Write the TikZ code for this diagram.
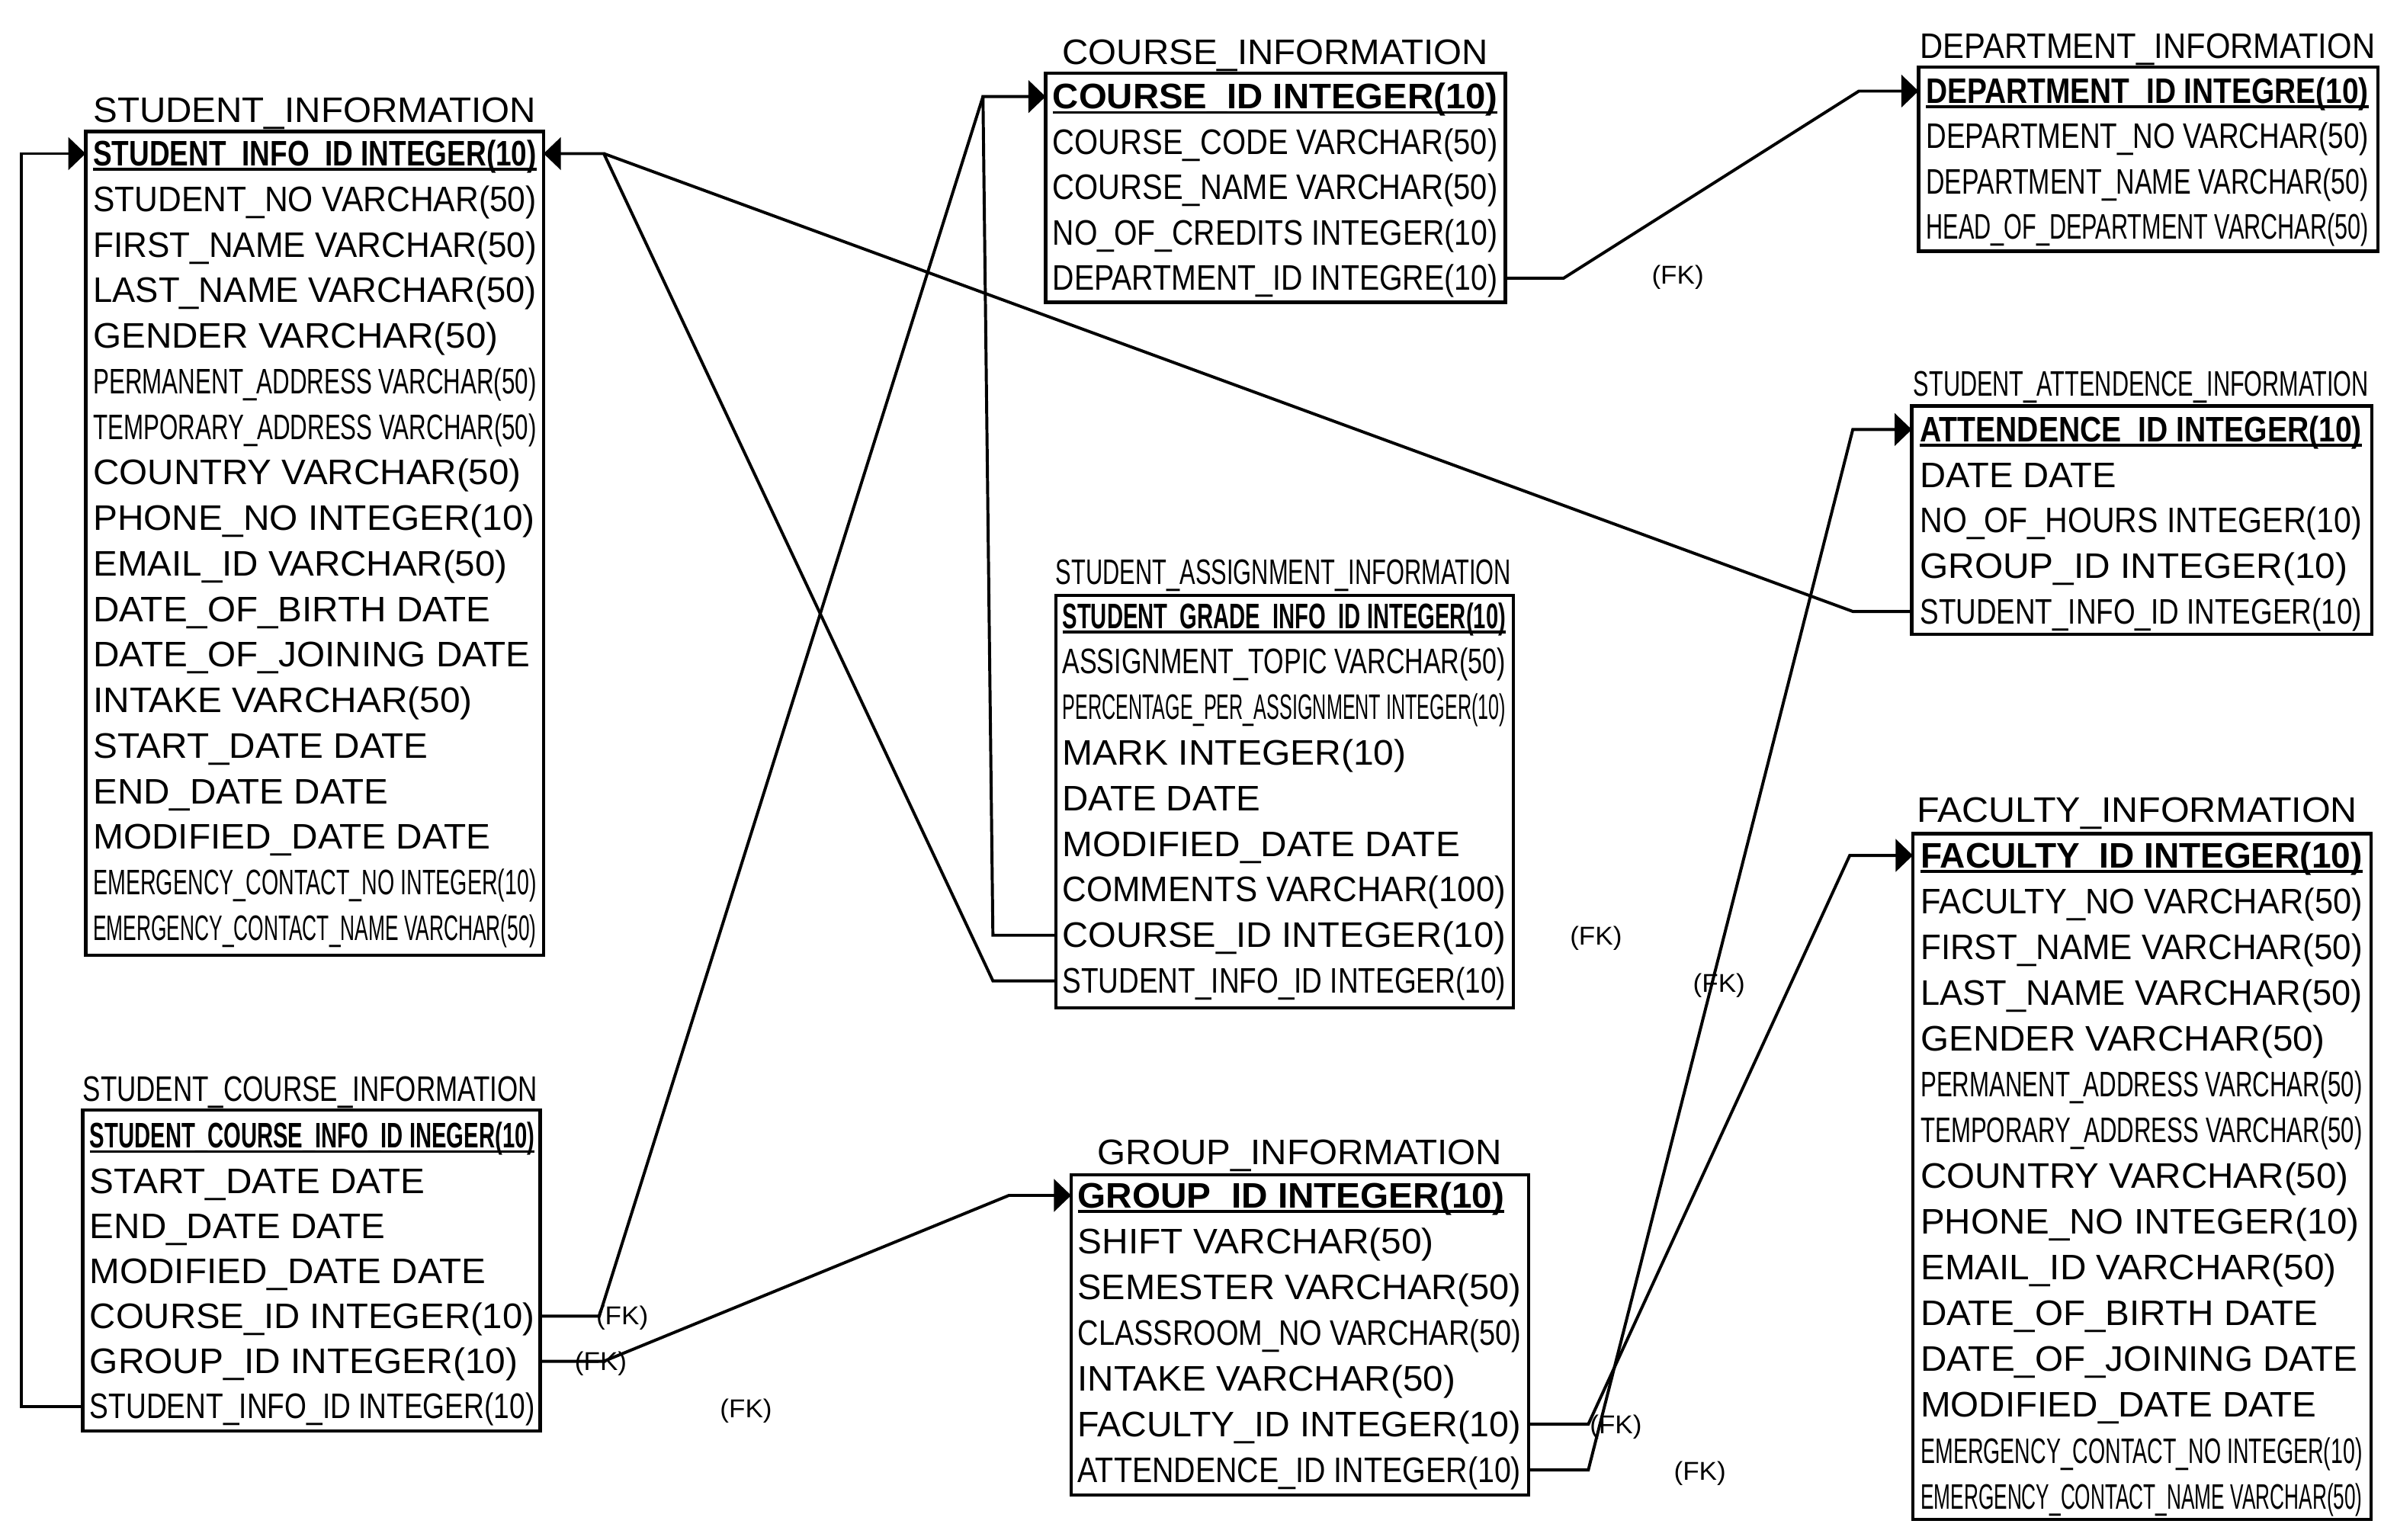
\documentclass[tikz,border=0pt]{standalone}
\usepackage{fontspec}
\setmainfont{Liberation Sans}
\usepackage{graphicx}
\usetikzlibrary{arrows.meta,calc}
\newlength\ux \setlength\ux{0.05cm}
\newcommand\fw[2]{\resizebox{#1\ux}{\height}{#2}}
\newcommand\pkline[1]{\setbox0\hbox{\bfseries #1}\rlap{\rule[-4.6pt]{\wd0}{2.6pt}}\box0}
\newcommand\pw[2]{\resizebox{#1\ux}{\height}{\pkline{#2}}}
\newcommand\tblrows[5]{\foreach[count=\ri from 2] \fwid/\ftxt in {#5}{\node[fld] (#1\ri) at (#2,{#3+#4*(\ri-1)+8}) {\fw{\fwid}{\ftxt}};}}
\tikzset{
 fld/.style={anchor=base west, inner sep=0pt, outer sep=0pt, text height=22.8pt, text depth=0pt, font=\fontsize{33}{36}\selectfont},
 fk/.style={anchor=center, inner sep=0pt, outer sep=0pt, font=\fontsize{24}{26}\selectfont},
 tbl/.style={draw, line width=3.2pt, inner sep=0pt, outer sep=0pt, anchor=north west},
 conn/.style={line width=2.8pt},
 pkarrow/.style={-{Triangle[length=16pt,width=30pt]}},
}
\begin{document}
\begin{tikzpicture}[x=0.05cm,y=-0.05cm]
\fill[white] (0,0) rectangle (1568,1007.4);
\useasboundingbox (0,0) rectangle (1568,1007.4);

% ---------- boxes ----------
\node[tbl, minimum width={299.6*0.05cm}, minimum height={538.8*0.05cm}] (si) at (56,86) {};
\node[tbl, minimum width={299.2*0.05cm}, minimum height={209.8*0.05cm}] (sci) at (54.2,726.2) {};
\node[tbl, minimum width={300.6*0.05cm}, minimum height={149.9*0.05cm}] (ci) at (684,47.9) {};
\node[tbl, minimum width={300.4*0.05cm}, minimum height={120.4*0.05cm}] (di) at (1255,44) {};
\node[tbl, minimum width={301*0.05cm}, minimum height={149.4*0.05cm}] (ai) at (1250.6,265.6) {};
\node[tbl, minimum width={299.3*0.05cm}, minimum height={269.8*0.05cm}] (sa) at (690.7,389.4) {};
\node[tbl, minimum width={299.3*0.05cm}, minimum height={209.4*0.05cm}] (gi) at (700.7,768.6) {};
\node[tbl, minimum width={299.7*0.05cm}, minimum height={448.7*0.05cm}] (fi) at (1251.3,545.3) {};

% ---------- titles ----------
\node[fld] (si-t) at (61,79.8) {\fw{289.6}{STUDENT\_INFORMATION}};
\node[fld] (sci-t) at (54.2,720.3) {\fw{297.4}{STUDENT\_COURSE\_INFORMATION}};
\node[fld] (ci-t) at (695,42) {\fw{278.5}{COURSE\_INFORMATION}};
\node[fld] (di-t) at (1256,38.2) {\fw{297.6}{DEPARTMENT\_INFORMATION}};
\node[fld] (ai-t) at (1251.7,259.3) {\fw{297.8}{STUDENT\_ATTENDENCE\_INFORMATION}};
\node[fld] (sa-t) at (690.7,382.4) {\fw{297.8}{STUDENT\_ASSIGNMENT\_INFORMATION}};
\node[fld] (gi-t) at (718,762) {\fw{264.5}{GROUP\_INFORMATION}};
\node[fld] (fi-t) at (1254,538) {\fw{288}{FACULTY\_INFORMATION}};

% ---------- STUDENT_INFORMATION ----------
\node[fld] (si1) at (61,108.5) {\pw{290}{STUDENT\_INFO\_ID INTEGER(10)}};
\tblrows{si}{61}{100.5}{29.8}{290/STUDENT\_NO VARCHAR(50), 290/FIRST\_NAME VARCHAR(50), 290/LAST\_NAME VARCHAR(50), 265/GENDER VARCHAR(50), 290/PERMANENT\_ADDRESS VARCHAR(50), 290/TEMPORARY\_ADDRESS VARCHAR(50), 280/COUNTRY VARCHAR(50), 289/PHONE\_NO INTEGER(10), 271/EMAIL\_ID VARCHAR(50), 260/DATE\_OF\_BIRTH DATE, 286/DATE\_OF\_JOINING DATE, 248/INTAKE VARCHAR(50), 219/START\_DATE DATE, 193/END\_DATE DATE, 260/MODIFIED\_DATE DATE, 290/EMERGENCY\_CONTACT\_NO INTEGER(10), 290/EMERGENCY\_CONTACT\_NAME VARCHAR(50)}

% ---------- STUDENT_COURSE_INFORMATION ----------
\node[fld] (sci1) at (58.8,751) {\pw{291}{STUDENT\_COURSE\_INFO\_ID INEGER(10)}};
\tblrows{sci}{58.8}{743}{29.5}{219/START\_DATE DATE, 193/END\_DATE DATE, 259/MODIFIED\_DATE DATE, 291/COURSE\_ID INTEGER(10), 280/GROUP\_ID INTEGER(10), 291/STUDENT\_INFO\_ID INTEGER(10)}

% ---------- COURSE_INFORMATION ----------
\node[fld] (ci1) at (688.7,71.2) {\pw{291}{COURSE\_ID INTEGER(10)}};
\tblrows{ci}{688.7}{63.2}{29.7}{291/COURSE\_CODE VARCHAR(50), 291/COURSE\_NAME VARCHAR(50), 291/NO\_OF\_CREDITS INTEGER(10), 291/DEPARTMENT\_ID INTEGRE(10)}

% ---------- DEPARTMENT_INFORMATION ----------
\node[fld] (di1) at (1260,67.6) {\pw{289.5}{DEPARTMENT\_ID INTEGRE(10)}};
\tblrows{di}{1260}{59.6}{29.6}{289.5/DEPARTMENT\_NO VARCHAR(50), 289.5/DEPARTMENT\_NAME VARCHAR(50), 289.5/HEAD\_OF\_DEPARTMENT VARCHAR(50)}

% ---------- STUDENT_ATTENDENCE_INFORMATION ----------
\node[fld] (ai1) at (1256,289) {\pw{289}{ATTENDENCE\_ID INTEGER(10)}};
\tblrows{ai}{1256}{281}{29.75}{128.5/DATE DATE, 289/NO\_OF\_HOURS INTEGER(10), 279.7/GROUP\_ID INTEGER(10), 289/STUDENT\_INFO\_ID INTEGER(10)}

% ---------- STUDENT_ASSIGNMENT_INFORMATION ----------
\node[fld] (sa1) at (695,411) {\pw{290}{STUDENT\_GRADE\_INFO\_ID INTEGER(10)}};
\tblrows{sa}{695}{403}{29.83}{290/ASSIGNMENT\_TOPIC VARCHAR(50), 290/PERCENTAGE\_PER\_ASSIGNMENT INTEGER(10), 225/MARK INTEGER(10), 129.5/DATE DATE, 260/MODIFIED\_DATE DATE, 290/COMMENTS VARCHAR(100), 290/COURSE\_ID INTEGER(10), 290/STUDENT\_INFO\_ID INTEGER(10)}

% ---------- GROUP_INFORMATION ----------
\node[fld] (gi1) at (705,790) {\pw{279}{GROUP\_ID INTEGER(10)}};
\tblrows{gi}{705}{782}{29.93}{233/SHIFT VARCHAR(50), 290/SEMESTER VARCHAR(50), 290/CLASSROOM\_NO VARCHAR(50), 247/INTAKE VARCHAR(50), 290/FACULTY\_ID INTEGER(10), 290/ATTENDENCE\_ID INTEGER(10)}

% ---------- FACULTY_INFORMATION ----------
\node[fld] (fi1) at (1256.4,567.6) {\pw{289}{FACULTY\_ID INTEGER(10)}};
\tblrows{fi}{1256.4}{559.6}{29.96}{289/FACULTY\_NO VARCHAR(50), 289/FIRST\_NAME VARCHAR(50), 289/LAST\_NAME VARCHAR(50), 264.6/GENDER VARCHAR(50), 289/PERMANENT\_ADDRESS VARCHAR(50), 289/TEMPORARY\_ADDRESS VARCHAR(50), 280/COUNTRY VARCHAR(50), 287/PHONE\_NO INTEGER(10), 272/EMAIL\_ID VARCHAR(50), 260/DATE\_OF\_BIRTH DATE, 285.6/DATE\_OF\_JOINING DATE, 259/MODIFIED\_DATE DATE, 289/EMERGENCY\_CONTACT\_NO INTEGER(10), 289/EMERGENCY\_CONTACT\_NAME VARCHAR(50)}

% ---------- FK labels ----------
\node[fk] (fk1) at (1097.5,181.4) {\fw{34}{(FK)}};
\node[fk] (fk2) at (1044,614) {\fw{34}{(FK)}};
\node[fk] (fk3) at (1124.5,644.5) {\fw{34}{(FK)}};
\node[fk] (fk4) at (407,862) {\fw{34}{(FK)}};
\node[fk] (fk5) at (393,892) {\fw{34}{(FK)}};
\node[fk] (fk6) at (488,923) {\fw{34}{(FK)}};
\node[fk] (fk7) at (1057,933.5) {\fw{34}{(FK)}};
\node[fk] (fk8) at (1112,964) {\fw{34}{(FK)}};

% ---------- connectors ----------
\coordinate (j1) at ($(si.east |- si1)+(39.4,0)$);
\coordinate (j2) at ($(ci.west |- ci1)+(-41,0)$);

\draw[conn,pkarrow] (sci.west |- sci7) -- ($(sci.west |- sci7)+(-40.2,0)$) |- (si.west |- si1);
\draw[conn,pkarrow] (sa.west |- sa9) -- ($(sa.west |- sa9)+(-41.2,0)$) -- (j1) -- (si.east |- si1);
\draw[conn] (ai.west |- ai5) -- ($(ai.west |- ai5)+(-38.6,0)$) -- (j1);
\draw[conn,pkarrow] (sa.west |- sa8) -- ($(sa.west |- sa8)+(-41.2,0)$) -- (j2) -- (ci.west |- ci1);
\draw[conn] (sci.east |- sci5) -- ($(sci.east |- sci5)+(38.6,0)$) -- (j2);
\draw[conn,pkarrow] (sci.east |- sci6) -- ++(41.6,0) -- ($(gi.west |- gi1)+(-40.7,0)$) -- (gi.west |- gi1);
\draw[conn,pkarrow] (ci.east |- ci5) -- ++(38.2,0) -- ($(di.west |- di1)+(-39,0)$) -- (di.west |- di1);
\draw[conn,pkarrow] (gi.east |- gi6) -- ++(39,0) -- ($(fi.west |- fi1)+(-41.3,0)$) -- (fi.west |- fi1);
\draw[conn,pkarrow] (gi.east |- gi7) -- ++(39,0) -- ($(ai.west |- ai1)+(-38.6,0)$) -- (ai.west |- ai1);
\end{tikzpicture}
\end{document}
